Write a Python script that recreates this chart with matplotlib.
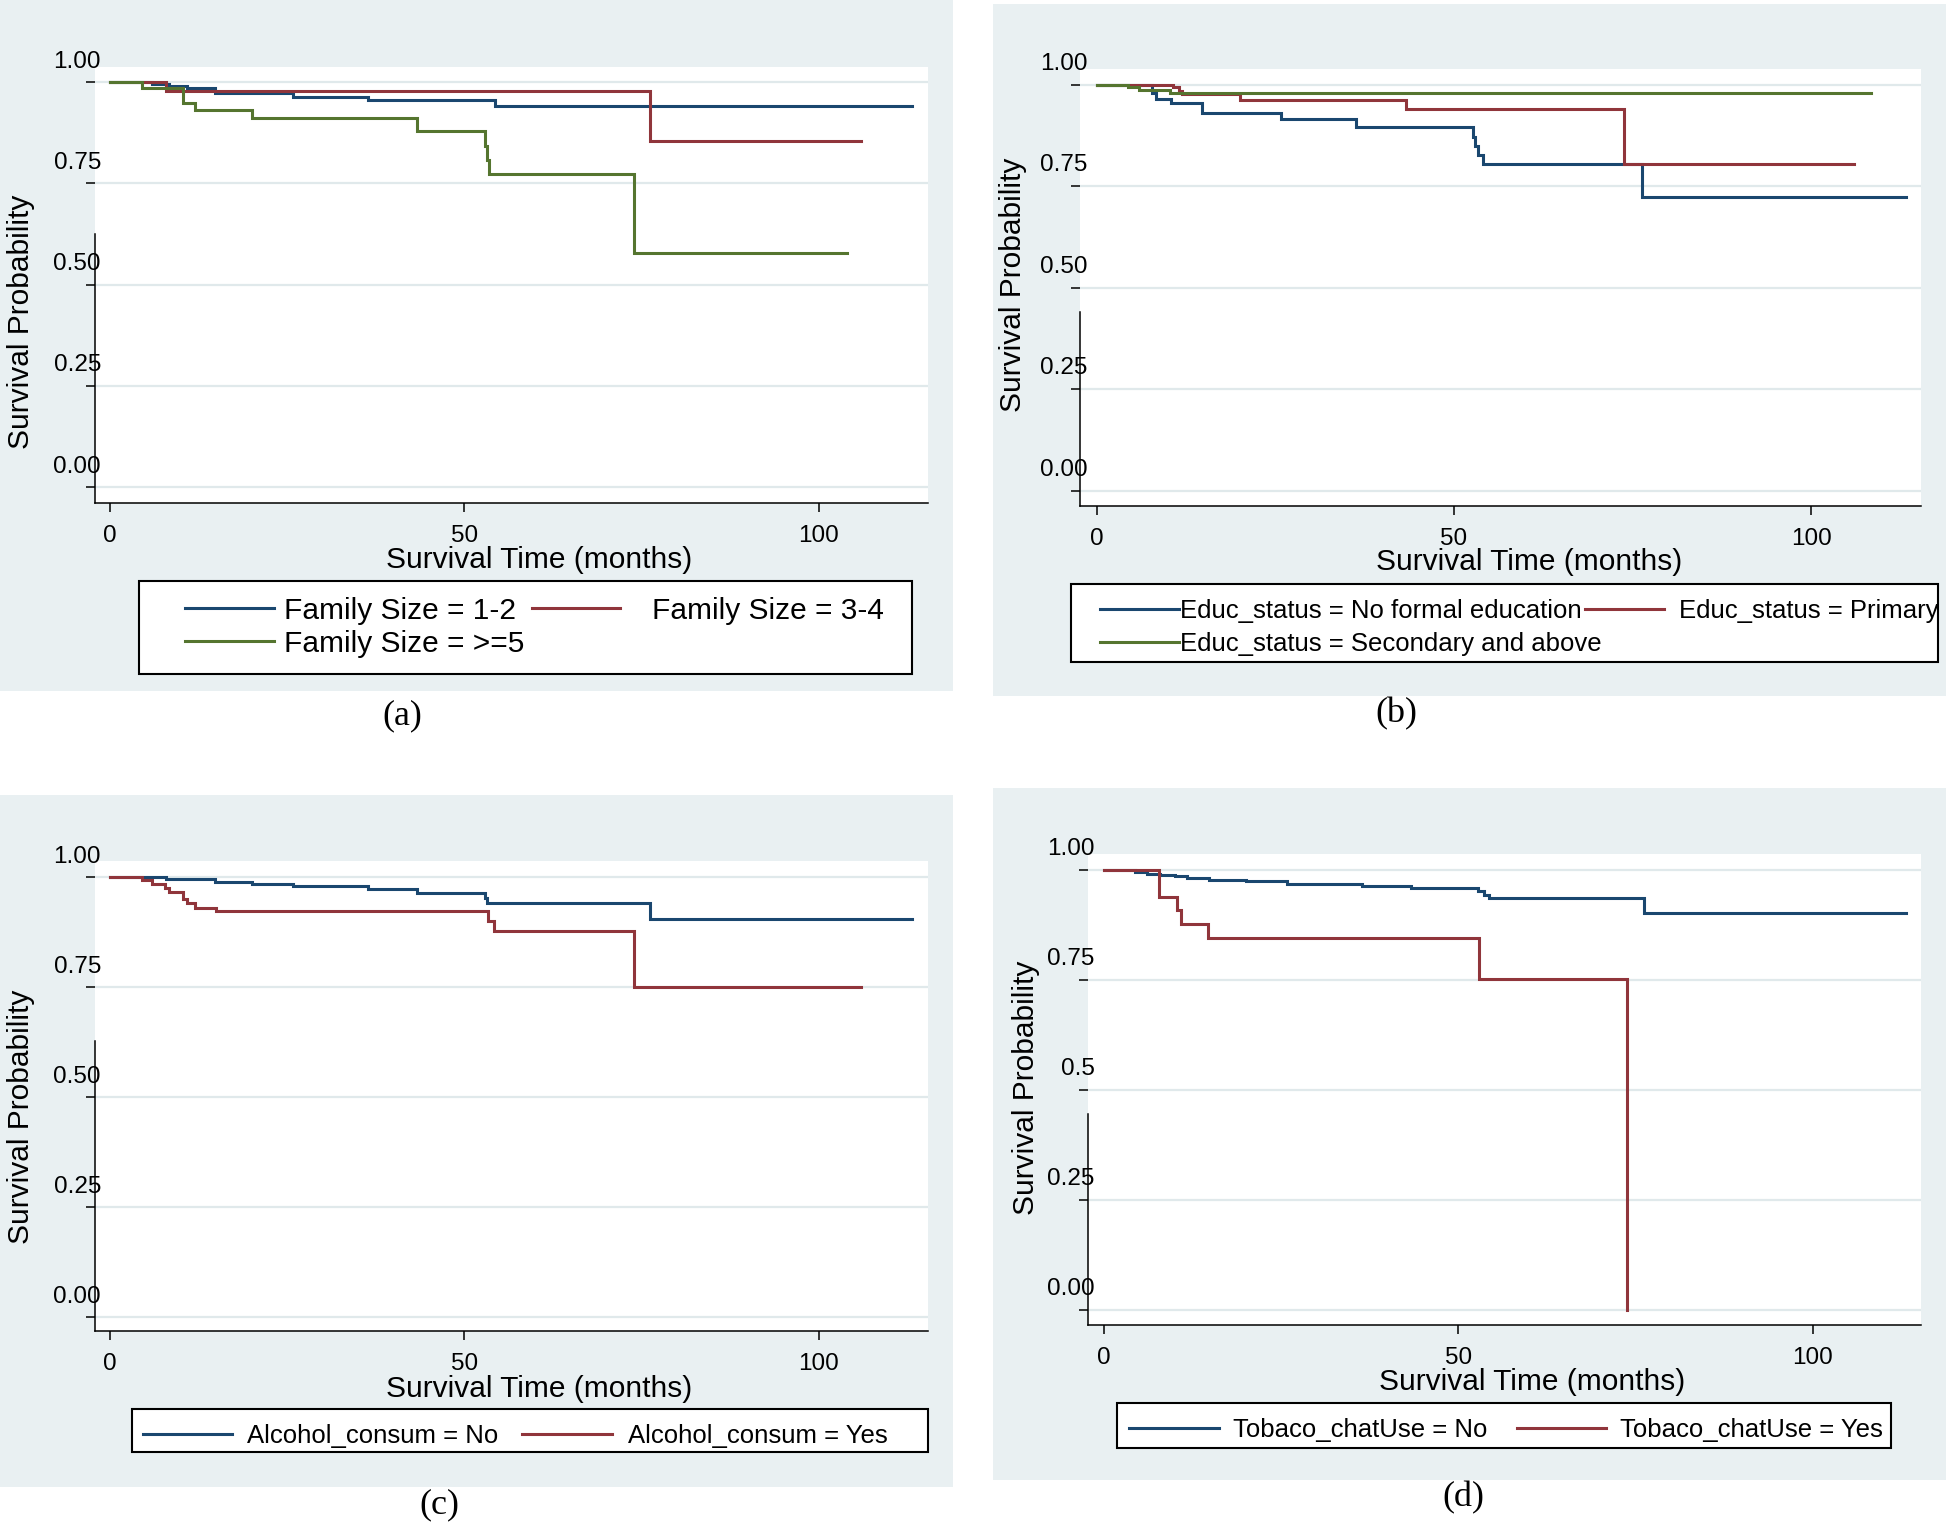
import matplotlib
matplotlib.use("Agg")
import matplotlib.pyplot as plt
import matplotlib.transforms as mtransforms
from matplotlib.patches import Rectangle

# ---------------- data ----------------
x_ticks = [0, 50, 100]
y_ticks = [0, 0.25, 0.5, 0.75, 1.0]
ytick_labels_std = ["0.00", "0.25", "0.50", "0.75", "1.00"]
ytick_labels_d = ["0.00", "0.25", "0.5", "0.75", "1.00"]

# (a) Family size
fam12_t = [0, 6.0, 8.4, 10.9, 14.9, 25.9, 36.4, 54.3, 113.1]
fam12_s = [1.0, 0.994, 0.990, 0.984, 0.972, 0.963, 0.955, 0.941, 0.941]
fam34_t = [0, 7.9, 76.2, 105.9]
fam34_s = [1.0, 0.977, 0.855, 0.855]
fam5_t = [0, 4.6, 10.3, 12.0, 20.1, 43.4, 52.9, 53.2, 53.5, 73.9, 104.0]
fam5_s = [1.0, 0.984, 0.949, 0.930, 0.910, 0.879, 0.842, 0.808, 0.773, 0.579, 0.579]

# (b) Education status
edu_none_t = [0, 7.7, 8.3, 10.4, 14.8, 25.8, 36.3, 52.7, 53.0, 53.4, 54.1, 76.3, 113.2]
edu_none_s = [1.0, 0.979, 0.966, 0.954, 0.930, 0.915, 0.897, 0.872, 0.849, 0.827, 0.804, 0.723, 0.723]
edu_prim_t = [0, 10.7, 11.5, 12.0, 20.05, 43.3, 73.8, 106.0]
edu_prim_s = [1.0, 0.995, 0.985, 0.976, 0.962, 0.940, 0.805, 0.805]
edu_sec_t = [0, 4.4, 5.9, 10.25, 108.4]
edu_sec_s = [1.0, 0.9935, 0.987, 0.980, 0.980]

# (c) Alcohol consumption
alc_no_t = [0, 7.9, 14.9, 20.1, 25.9, 36.5, 43.4, 52.9, 53.2, 76.2, 113.1]
alc_no_s = [1.0, 0.995, 0.989, 0.983, 0.978, 0.971, 0.962, 0.951, 0.941, 0.903, 0.903]
alc_yes_t = [0, 4.6, 6.0, 7.8, 8.4, 10.3, 10.9, 12.0, 15.0, 53.4, 54.2, 73.9, 106.0]
alc_yes_s = [1.0, 0.9925, 0.983, 0.975, 0.966, 0.949, 0.940, 0.930, 0.921, 0.899, 0.877, 0.750, 0.750]

# (d) Tobacco / chat use
tob_no_t = [0, 4.4, 6.1, 8.0, 10.1, 11.8, 14.9, 20.05, 25.9, 36.4, 43.4, 52.8, 53.6, 54.3, 76.2, 113.1]
tob_no_s = [1.0, 0.995, 0.992, 0.989, 0.986, 0.981, 0.978, 0.974, 0.969, 0.964, 0.958, 0.952, 0.943, 0.936, 0.903, 0.903]
tob_yes_t = [0, 7.8, 10.4, 10.9, 14.8, 53.0, 73.8]
tob_yes_s = [1.0, 0.939, 0.908, 0.877, 0.846, 0.752, 0.0]

labels_a = ["Family Size = 1-2", "Family Size = 3-4", "Family Size = >=5"]
labels_b = ["Educ_status = No formal education", "Educ_status = Primary",
            "Educ_status = Secondary and above"]
labels_c = ["Alcohol_consum = No", "Alcohol_consum = Yes"]
labels_d = ["Tobaco_chatUse = No", "Tobaco_chatUse = Yes"]
tags = ["(a)", "(b)", "(c)", "(d)"]

# ---------------- style ----------------
W, H, DPI = 1946, 1523, 100
BG = "#e9f0f2"
GRID = "#e0e9eb"
BLUE, RED, GREEN = "#1a476f", "#90353b", "#55752f"
LW = 2.2

plt.rcParams["font.family"] = ["Liberation Sans", "DejaVu Sans"]

fig = plt.figure(figsize=(W / DPI, H / DPI), dpi=DPI, facecolor="white")


def fx(x):
    return x / W


def fy(y):
    return 1 - y / H


def rect_px(x0, y0, x1, y1, **kw):
    r = Rectangle((fx(x0), fy(y1)), fx(x1) - fx(x0), fy(y0) - fy(y1),
                  transform=fig.transFigure, **kw)
    fig.add_artist(r)
    return r


panels = [
    dict(bg=(0, 0, 953, 691), ax=(95, 66.6, 928, 502.8), t0=109.5, tpx=7.092,
         s1=82.0, spx=405.3, ytl=ytick_labels_std, dx=15, dy=23, spine_top=0.625,
         xl=(539, 560), yl=(21, 321.5),
         series=[(fam12_t, fam12_s, BLUE), (fam34_t, fam34_s, RED), (fam5_t, fam5_s, GREEN)],
         labels=labels_a, box=(139, 581, 912, 673.5), lfs=21.5,
         entries=[(185, 610.6, 89, 9.5), (531.5, 610.6, 88.5, 32), (185, 643.6, 89, 9.5)],
         tag_xy=(402, 716)),
    dict(bg=(993, 4, 1946, 696), ax=(1080, 69, 1921, 506), t0=1096.7, tpx=7.147,
         s1=84.7, spx=406.0, ytl=ytick_labels_std, dx=16.6, dy=23.6, spine_top=0.44,
         xl=(1529, 562.4), yl=(1013, 284.7),
         series=[(edu_none_t, edu_none_s, BLUE), (edu_prim_t, edu_prim_s, RED),
                 (edu_sec_t, edu_sec_s, GREEN)],
         labels=labels_b, box=(1070.5, 584, 1938, 662), lfs=18.5,
         entries=[(1099.8, 610.9, 79, 1.2), (1584.5, 610.9, 79.3, 15.2), (1099.8, 643.9, 79, 1.2)],
         tag_xy=(1396, 714)),
    dict(bg=(0, 795, 953, 1487), ax=(95, 860.6, 928, 1331), t0=109.5, tpx=7.092,
         s1=876.7, spx=440.0, ytl=ytick_labels_std, dx=15, dy=22.5, spine_top=0.627,
         xl=(539, 1389), yl=(21, 1117),
         series=[(alc_no_t, alc_no_s, BLUE), (alc_yes_t, alc_yes_s, RED)],
         labels=labels_c, box=(131.7, 1409.4, 928, 1451.6), lfs=18.5,
         entries=[(142.7, 1436.1, 88.8, 15.3), (522.4, 1436.1, 89.6, 15.7)],
         tag_xy=(439, 1505)),
    dict(bg=(993, 788, 1946, 1480), ax=(1087.6, 854.4, 1921, 1325), t0=1103.5, tpx=7.092,
         s1=870.0, spx=440.0, ytl=ytick_labels_d, dx=16.3, dy=23.3, spine_top=0.445,
         xl=(1532, 1382), yl=(1025.7, 1088),
         series=[(tob_no_t, tob_no_s, BLUE), (tob_yes_t, tob_yes_s, RED)],
         labels=labels_d, box=(1116.8, 1403, 1891, 1448), lfs=18.5,
         entries=[(1129, 1430.1, 89.7, 14), (1517.4, 1430.1, 88.4, 14.6)],
         tag_xy=(1463, 1498)),
]

for p, tag in zip(panels, tags):
    # grey graph region
    bx0, by0, bx1, by1 = p["bg"]
    rect_px(bx0, by0, bx1, by1, facecolor=BG, edgecolor="none", zorder=-10)

    l, t, r, b = p["ax"]
    ax = fig.add_axes([fx(l), fy(b), fx(r) - fx(l), fy(t) - fy(b)])
    ax.set_facecolor("white")
    ax.set_xlim((l - p["t0"]) / p["tpx"], (r - p["t0"]) / p["tpx"])
    ax.set_ylim(1 - (b - p["s1"]) / p["spx"], 1 + (p["s1"] - t) / p["spx"])

    lines = []
    for (tt, ss, col) in p["series"]:
        ln, = ax.step(tt, ss, where="post", color=col, lw=LW, solid_joinstyle="miter", zorder=3)
        lines.append(ln)

    ax.set_xticks(x_ticks)
    ax.set_xticklabels([str(v) for v in x_ticks])
    ax.set_yticks(y_ticks)
    ax.set_yticklabels(p["ytl"])
    ax.yaxis.grid(True, color=GRID, lw=1.6)
    ax.set_axisbelow(True)
    for s in ("top", "right"):
        ax.spines[s].set_visible(False)
    for s in ("left", "bottom"):
        ax.spines[s].set_linewidth(1.1)
        ax.spines[s].set_color("black")
    ax.spines["left"].set_bounds(ax.get_ylim()[0], p["spine_top"])

    ax.tick_params(axis="both", direction="out", length=6.5, width=1.1,
                   labelsize=17.5, colors="black")
    ax.tick_params(axis="y", pad=0)
    ax.tick_params(axis="x", pad=9.3)
    off = mtransforms.ScaledTranslation(p["dx"] / DPI, p["dy"] / DPI, fig.dpi_scale_trans)
    for lbl in ax.get_yticklabels():
        lbl.set_transform(lbl.get_transform() + off)

    ax.set_xlabel("Survival Time (months)", fontsize=21.5)
    ax.xaxis.label.set_va("center")
    ax.xaxis.set_label_coords((p["xl"][0] - l) / (r - l), (b - p["xl"][1]) / (b - t))
    ax.set_ylabel("Survival Probability", fontsize=21.5)
    ax.yaxis.label.set_va("center")
    ax.yaxis.set_label_coords((p["yl"][0] - l) / (r - l), (b - p["yl"][1]) / (b - t))

    # legend box and entries
    x0, y0, x1, y1 = p["box"]
    rect_px(x0, y0, x1, y1, facecolor="white", edgecolor="black", lw=1.5, zorder=4)
    fs_px = p["lfs"] * DPI / 72
    for ln, lab, (hx, hy, hl, hp) in zip(lines, p["labels"], p["entries"]):
        leg = fig.legend([ln], [lab], loc="center left",
                         bbox_to_anchor=(fx(hx), fy(hy)), bbox_transform=fig.transFigure,
                         frameon=False, borderpad=0, borderaxespad=0,
                         handlelength=hl / fs_px, handletextpad=hp / fs_px,
                         fontsize=p["lfs"])
        leg.set_zorder(6)

    fig.text(fx(p["tag_xy"][0]), fy(p["tag_xy"][1]), tag, ha="center", va="center",
             fontsize=26, family=["Liberation Serif", "DejaVu Serif"])

fig.savefig("out.png", dpi=DPI, facecolor="white")
